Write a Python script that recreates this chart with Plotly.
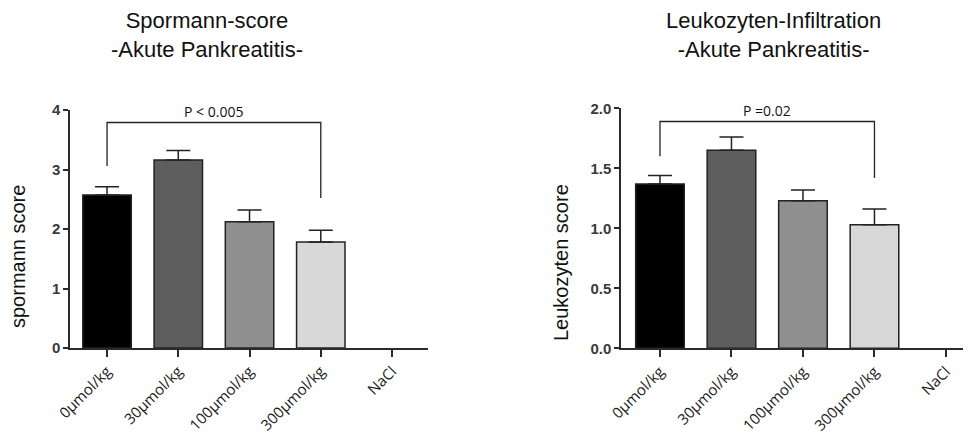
import plotly.graph_objects as go

# ---- data ----
categories = ["0µmol/kg", "30µmol/kg", "100µmol/kg", "300µmol/kg", "NaCl"]
spormann_mean = [2.57, 3.16, 2.12, 1.78, None]
spormann_sem = [0.14, 0.16, 0.20, 0.20, None]
leuko_mean = [1.37, 1.65, 1.23, 1.03, None]
leuko_sem = [0.07, 0.11, 0.09, 0.13, None]
bar_colors = ["#000000", "#5e5e5e", "#8f8f8f", "#d8d8d8", "#ffffff"]

# significance brackets: [left leg bottom, top, top, right leg bottom]
bracket1_y = [3.06, 3.79, 3.79, 2.52]
bracket2_y = [1.60, 1.89, 1.89, 1.42]
bracket_x = [categories[0], categories[0], categories[3], categories[3]]
p_text1 = "P < 0.005"
p_text2 = "P =0.02"

W, H = 971, 434
OX, OY = 8, 8  # page body offset of the figure


def fx(p):
    return (p - OX) / W


def fy(p):
    return 1 - (p - OY) / H


AX = "#2b2b2b"

fig = go.Figure()

for xa, ya, means, sems, bracket in [("x", "y", spormann_mean, spormann_sem, bracket1_y),
                                     ("x2", "y2", leuko_mean, leuko_sem, bracket2_y)]:
    fig.add_trace(go.Bar(
        x=categories, y=means, xaxis=xa, yaxis=ya,
        marker=dict(color=bar_colors, line=dict(color="#222222", width=1.5)),
        width=0.68,
        error_y=dict(type="data", array=sems, arrayminus=[0] * len(sems), symmetric=False,
                     color="#222222", thickness=1.5, width=12),
        showlegend=False, hoverinfo="skip",
    ))
    fig.add_trace(go.Scatter(
        x=bracket_x, y=bracket, xaxis=xa, yaxis=ya, mode="lines",
        line=dict(color="#222222", width=1.3), showlegend=False, hoverinfo="skip",
    ))

tickfont_y = dict(family="Liberation Sans, Arial", size=15, color="#3a3a3a", weight="bold")
tickfont_x = dict(family="Open Sans, Arial", size=15, color="#1a1a1a")

common_x = dict(type="category", showline=True, linecolor=AX, linewidth=1.5,
                ticks="outside", ticklen=7, tickwidth=1.5, tickcolor=AX,
                tickangle=-45, tickfont=tickfont_x, showgrid=False, zeroline=False,
                automargin=False)
common_y = dict(showline=True, linecolor=AX, linewidth=1.5, ticks="outside",
                ticklen=5, tickwidth=1.5, tickcolor=AX, tickfont=tickfont_y,
                showgrid=False, zeroline=False, automargin=False)

fig.update_layout(
    width=W, height=H,
    margin=dict(l=0, r=0, t=0, b=0, pad=0, autoexpand=False),
    paper_bgcolor="white", plot_bgcolor="white",
    xaxis=dict(domain=[fx(70), fx(428)], range=[-0.52, 4.505], anchor="y", **common_x),
    yaxis=dict(domain=[fy(348), fy(110)], range=[0, 4], dtick=1, anchor="x", **common_y),
    xaxis2=dict(domain=[fx(621), fx(971)], range=[-0.545, 4.35], anchor="y2", **common_x),
    yaxis2=dict(domain=[fy(348.3), fy(108.3)], range=[0, 2], dtick=0.5,
                tickformat=".1f", anchor="x2", **common_y),
)

title_font = dict(family="Liberation Sans, Arial", size=22, color="#111111")
axis_title_font = dict(family="Liberation Sans, Arial", size=20, color="#111111")
p_font = dict(family="Open Sans, Arial", size=14, color="#111111")
ann = [
    dict(text="Spormann-score<br>-Akute Pankreatitis-", x=fx(207), y=fy(35),
         xref="paper", yref="paper", xanchor="center", yanchor="middle",
         showarrow=False, font=title_font, align="center"),
    dict(text="Leukozyten-Infiltration<br>-Akute Pankreatitis-", x=fx(773), y=fy(35),
         xref="paper", yref="paper", xanchor="center", yanchor="middle",
         showarrow=False, font=title_font, align="center"),
    dict(text="spormann score", x=fx(18), y=fy(257), xref="paper", yref="paper",
         xanchor="center", yanchor="middle", textangle=-90, showarrow=False,
         font=axis_title_font),
    dict(text="Leukozyten score", x=fx(561), y=fy(263), xref="paper", yref="paper",
         xanchor="center", yanchor="middle", textangle=-90, showarrow=False,
         font=axis_title_font),
    dict(text=p_text1, x=1.5, y=bracket1_y[1], xref="x", yref="y", xanchor="center",
         yanchor="bottom", showarrow=False, yshift=-1, font=p_font),
    dict(text=p_text2, x=1.5, y=bracket2_y[1], xref="x2", yref="y2", xanchor="center",
         yanchor="bottom", showarrow=False, yshift=-1, font=p_font),
]
fig.update_layout(annotations=ann)

fig.write_html("out.html")
